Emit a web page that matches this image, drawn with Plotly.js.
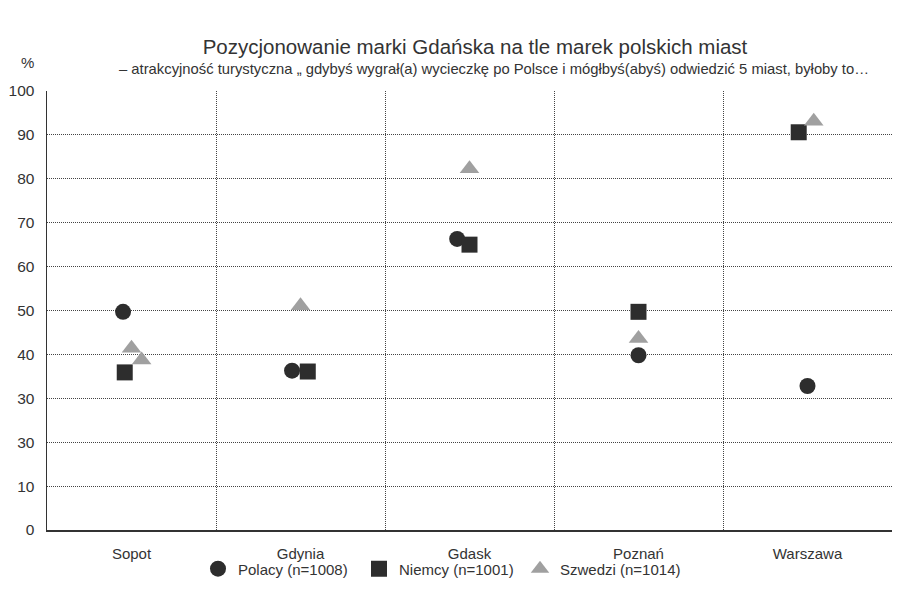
<!DOCTYPE html>
<html><head><meta charset="utf-8">
<script src="https://cdn.plot.ly/plotly-3.0.1.min.js"></script>
<style>html,body{margin:0;padding:0;background:#fff}</style>
</head><body><div id="chart" style="width:904px;height:605px"></div>
<script>
// ---- data ----
const categories = ['Sopot', 'Gdynia', 'Gdask', 'Poznań', 'Warszawa'];
const yTickVals = [0, 10, 20, 30, 40, 50, 60, 70, 80, 90, 100];
const yTickText = ['0', '10', '30', '30', '40', '50', '60', '70', '80', '90', '100'];

const polacyName = 'Polacy (n=1008)';
const polacyCities = ['Sopot', 'Gdynia', 'Gdask', 'Poznań', 'Warszawa'];
const polacyValues = [49.7, 36.3, 66.3, 39.8, 32.8];
const polacyJitter = [-0.05, -0.05, -0.073, 0, 0];

const niemcyName = 'Niemcy (n=1001)';
const niemcyCities = ['Sopot', 'Gdynia', 'Gdask', 'Poznań', 'Warszawa'];
const niemcyValues = [35.9, 36.1, 65.0, 49.7, 90.6];
const niemcyJitter = [-0.04, 0.043, 0, 0, -0.052];

const szwedziName = 'Szwedzi (n=1014)';
const szwedziCities = ['Sopot', 'Sopot', 'Gdynia', 'Gdask', 'Poznań', 'Warszawa'];
const szwedziValues = [41.4, 38.7, 51.1, 82.3, 43.6, 93.1];
const szwedziJitter = [0, 0.06, 0, 0, 0, 0.037];

// ---- chart ----
const FONT = '"Liberation Sans", Arial, sans-serif';
const DARK = '#2d2d2d';
const GREY = '#a0a0a0';
const TXT = '#333333';

function xs(cities, jitter) {
  return cities.map((c, i) => categories.indexOf(c) + jitter[i]);
}

const traces = [
  {name: polacyName, x: xs(polacyCities, polacyJitter), y: polacyValues, type: 'scatter', mode: 'markers',
   marker: {symbol: 'circle', size: 16, color: DARK, line: {width: 0}}},
  {name: niemcyName, x: xs(niemcyCities, niemcyJitter), y: niemcyValues, type: 'scatter', mode: 'markers',
   marker: {symbol: 'square', size: 16, color: DARK, line: {width: 0}}},
  {name: szwedziName, x: xs(szwedziCities, szwedziJitter), y: szwedziValues, type: 'scatter', mode: 'markers',
   marker: {symbol: 'triangle-up', size: 17, color: GREY, line: {width: 0}}}
];

const boundaries = categories.map((c, i) => i + 0.5);

const layout = {
  width: 904, height: 605,
  paper_bgcolor: '#ffffff', plot_bgcolor: '#ffffff',
  margin: {l: 47, r: 12, t: 90.5, b: 75},
  font: {family: FONT, size: 15, color: TXT},
  showlegend: true,
  title: {
    text: 'Pozycjonowanie marki Gdańska na tle marek polskich miast',
    font: {family: FONT, size: 20.5, color: TXT},
    x: 475 / 904, xanchor: 'center', xref: 'container',
    y: 1 - 47 / 605, yanchor: 'middle', yref: 'container'
  },
  xaxis: {
    range: [-0.5, 4.5],
    tickmode: 'array', tickvals: categories.map((c, i) => i), ticktext: categories,
    showgrid: false, zeroline: false,
    showline: true, linecolor: '#333333', linewidth: 1.5,
    ticks: '', ticklabelstandoff: 9,
    tickfont: {family: FONT, size: 15, color: TXT},
    minor: {tickmode: 'array', tickvals: boundaries, showgrid: true, gridcolor: '#444444', gridwidth: 1, griddash: '1px,1px', ticks: ''},
    fixedrange: true
  },
  yaxis: {
    range: [0, 100],
    tickmode: 'array', tickvals: yTickVals, ticktext: yTickText,
    showgrid: true, gridcolor: '#444444', gridwidth: 1, griddash: '1px,1px',
    zeroline: false,
    showline: true, linecolor: '#333333', linewidth: 1.5,
    ticks: '', ticklabelstandoff: 8,
    tickfont: {family: FONT, size: 15.5, color: TXT},
    fixedrange: true
  },
  legend: {
    orientation: 'h',
    x: (198 - 47) / 845, xanchor: 'left',
    y: -(569 - 530) / 439.5, yanchor: 'middle',
    entrywidth: 116, entrywidthmode: 'pixels',
    font: {family: FONT, size: 15, color: TXT},
    bgcolor: 'rgba(0,0,0,0)'
  },
  annotations: [
    {text: '– atrakcyjność turystyczna „ gdybyś wygrał(a) wycieczkę po Polsce i mógłbyś(abyś) odwiedzić 5 miast, byłoby to…',
     xref: 'paper', yref: 'paper', x: (493.5 - 47) / 845, y: (530 - 68) / 439.5,
     xanchor: 'center', yanchor: 'middle', showarrow: false,
     font: {family: FONT, size: 14.8, color: TXT}},
    {text: '%', xref: 'paper', yref: 'paper', x: (27 - 47) / 845, y: (530 - 62) / 439.5,
     xanchor: 'center', yanchor: 'middle', showarrow: false,
     font: {family: FONT, size: 15, color: TXT}}
  ]
};

Plotly.newPlot('chart', traces, layout, {displayModeBar: false, staticPlot: true});
</script>
</body></html>
